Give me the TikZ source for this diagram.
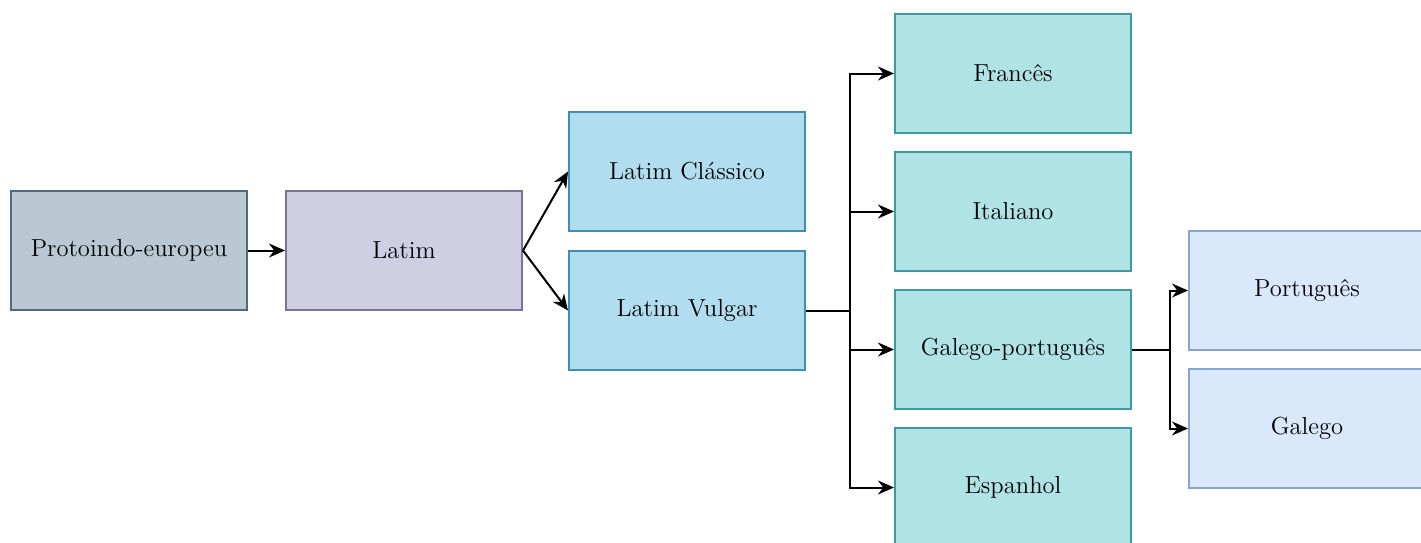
\documentclass[tikz,border=0pt]{standalone}
\usepackage{tikz}
\usepackage{xcolor}
\usetikzlibrary{arrows.meta}

\definecolor{protofill}{HTML}{BAC8D3}
\definecolor{protodraw}{HTML}{23445D}
\definecolor{latimfill}{HTML}{D0CEE2}
\definecolor{latimdraw}{HTML}{56517E}
\definecolor{ramofill}{HTML}{B1DDF0}
\definecolor{ramodraw}{HTML}{10739E}
\definecolor{romfill}{HTML}{B0E3E6}
\definecolor{romdraw}{HTML}{0E8088}
\definecolor{ibfill}{HTML}{DAE8FC}
\definecolor{ibdraw}{HTML}{6C8EBF}

\begin{document}
\begin{tikzpicture}[x=0.5pt, y=-0.5pt,
    box/.style={rectangle, draw, line width=1pt, minimum width=118pt, minimum height=59.5pt,
                inner sep=0pt, font=\fontsize{12.3}{14}\selectfont, text=black},
    arr/.style={-{Stealth[length=8pt, width=7pt]}, line width=1pt}]
            \clip (0, 0) rectangle (1421, 542);
            % Origem
            \node[box, fill=protofill, draw=protodraw!80] (proto) at (129, 250.5) {Protoindo-europeu};
            \node[box, fill=latimfill, draw=latimdraw!80] (latim) at (404, 250.5) {Latim};
            \node[box, fill=ramofill, draw=ramodraw!80] (classico) at (687, 171.5) {Latim Clássico};
            \node[box, fill=ramofill, draw=ramodraw!80] (vulgar) at (687, 310.5) {Latim Vulgar};
            % Linguas romanicas
            \node[box, fill=romfill, draw=romdraw!80] (frances) at (1013, 73.5) {Francês};
            \node[box, fill=romfill, draw=romdraw!80] (italiano) at (1013, 211.5) {Italiano};
            \node[box, fill=romfill, draw=romdraw!80] (galpt) at (1013, 349.5) {Galego-português};
            \node[box, fill=romfill, draw=romdraw!80] (espanhol) at (1013, 487.5) {Espanhol};
            \node[box, fill=ibfill, draw=ibdraw!80] (portugues) at (1307, 290.5) {Português};
            \node[box, fill=ibfill, draw=ibdraw!80] (galego) at (1307, 428.5) {Galego};

            \coordinate (split1) at (850, 310.5);
            \coordinate (split2) at (1170, 349.5);

            \draw[arr] (proto) -- (latim);
            \draw[arr] (latim.east) -- (classico.west);
            \draw[arr] (latim.east) -- (vulgar.west);
            \draw[line width=1pt] (vulgar.east) -- (split1);
            \draw[arr] (split1) |- (frances.west);
            \draw[arr] (split1) |- (italiano.west);
            \draw[arr] (split1) |- (galpt.west);
            \draw[arr] (split1) |- (espanhol.west);
            \draw[line width=1pt] (galpt.east) -- (split2);
            \draw[arr] (split2) |- (portugues.west);
            \draw[arr] (split2) |- (galego.west);
        \end{tikzpicture}
\end{document}
